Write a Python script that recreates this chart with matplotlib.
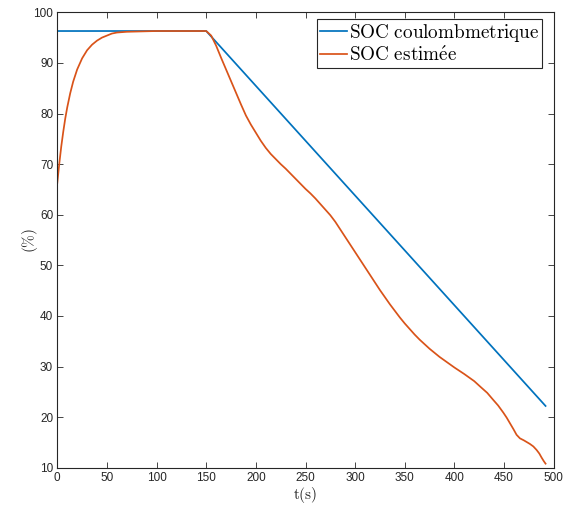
import matplotlib
matplotlib.use("Agg")
import matplotlib.pyplot as plt
import numpy as np

# Coulomb-counting SOC (piecewise linear)
t_coul = [0, 150, 491.8]
soc_coul = [96.3, 96.3, 22.2]

# Estimated SOC
t_est = [0, 2, 4, 6, 8, 10, 13, 16, 20, 25, 30, 35, 40, 45, 50, 55, 60, 70, 80, 100, 150,
         155, 160, 165, 170, 175, 180, 185, 190, 195, 200, 205, 210, 215, 220, 225, 230,
         235, 240, 245, 250, 255, 260, 265, 270, 275, 280, 285, 290, 295, 300, 305, 310,
         315, 320, 325, 330, 335, 340, 345, 350, 355, 360, 365, 370, 375, 380, 385, 390,
         400, 410, 420, 426.7, 433, 439.1,
         444, 449.2, 452.6, 455.9, 459.5, 462.6, 466.0, 470, 476.0, 479.5, 482.8, 485.5,
         487.8, 490, 491.8]
soc_est = [66.3, 70.1, 73.5, 76.4, 79.0, 81.2, 84.0, 86.3, 88.7, 90.9, 92.5, 93.6, 94.4, 95.0, 95.4, 95.8, 96.0, 96.15, 96.2, 96.3, 96.3,
           95.4, 93.4, 91.0, 88.7, 86.4, 84.1, 81.8, 79.6, 77.8, 76.2, 74.6, 73.2, 72.0, 71.0, 70.0, 69.1,
           68.1, 67.1, 66.1, 65.1, 64.2, 63.2, 62.1, 61.0, 59.9, 58.6, 57.1, 55.6, 54.1, 52.6, 51.1, 49.6,
           48.1, 46.6, 45.1, 43.7, 42.3, 41.0, 39.7, 38.5, 37.4, 36.3, 35.3, 34.4, 33.5, 32.7, 31.9, 31.2,
           29.8, 28.5, 27.1, 25.9, 24.8, 23.4,
           22.3, 20.9, 19.9, 18.8, 17.6, 16.5, 15.8, 15.4, 14.7, 14.2, 13.5, 12.8,
           12.0, 11.3, 10.8]

labels = [r'$\mathrm{SOC\ coulombmetrique}$', r'$\mathrm{SOC\ estim\acute{e}e}$']

plt.rcParams['mathtext.fontset'] = 'cm'
plt.rcParams['font.family'] = ['Liberation Sans', 'DejaVu Sans']

fig = plt.figure(figsize=(5.69, 5.07), dpi=100)
W, H = 569, 507
ax = fig.add_axes([57.3 / W, 1 - 467.7 / H, (553.7 - 57.3) / W, (467.7 - 12.3) / H])

ax.plot(t_coul, soc_coul, color='#0072BD', lw=1.25, label=labels[0])
ax.plot(t_est, soc_est, color='#D95319', lw=1.25, label=labels[1])

ax.set_xlim(0, 500)
ax.set_ylim(10, 100)
ax.set_xticks(np.arange(0, 501, 50))
ax.set_yticks(np.arange(10, 101, 10))
ax.tick_params(direction='in', top=True, right=True, length=4, width=0.6,
               labelsize=8.5, colors='#262626', pad=3)
for s in ax.spines.values():
    s.set_color('#262626')
    s.set_linewidth(0.8)

ax.set_xlabel(r'$\mathrm{t(s)}$', fontsize=11, color='#262626', labelpad=1)
ax.set_ylabel(r'$\mathrm{(\%)}$', fontsize=11, color='#262626', labelpad=-5)

leg = ax.legend(loc='upper right', bbox_to_anchor=(0.9764, 0.9853), fontsize=13.8,
                handlelength=1.4, handletextpad=0.1, borderpad=0.15, labelspacing=0.1,
                fancybox=False, framealpha=1, borderaxespad=0)
leg.get_frame().set_edgecolor('#262626')
leg.get_frame().set_linewidth(0.8)

fig.savefig('out.png', dpi=100)
